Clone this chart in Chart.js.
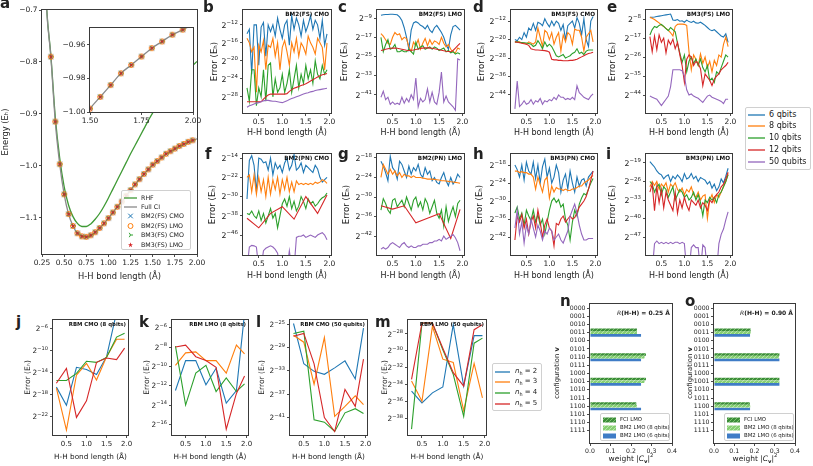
<!DOCTYPE html>
<html><head><meta charset="utf-8">
<script src="https://cdn.jsdelivr.net/npm/chart.js@4.4.1/dist/chart.umd.min.js"></script>
<style>
html,body{margin:0;padding:0;background:#fff;}
#fig{position:relative;width:813px;height:466px;overflow:hidden;font-family:"DejaVu Sans",sans-serif;color:#222;}
canvas{position:absolute;}
.lt{position:absolute;font-weight:bold;font-size:15px;line-height:15px;z-index:5;}
.leg{position:absolute;border:1px solid #d0d0d0;border-radius:2px;background:rgba(255,255,255,0.85);box-sizing:border-box;z-index:5;}
.tx{position:absolute;white-space:nowrap;line-height:1;z-index:5;}
</style></head><body><div id="fig"></div>
<script>
// ---------------- DATA ----------------
const bondX  = [0.25,0.30,0.35,0.40,0.45,0.50,0.55,0.60,0.65,0.70,0.75,0.80,0.85,0.90,0.95,1.00,1.05,1.10,1.15,1.20,1.25,1.30,1.35,1.40,1.45,1.50,1.55,1.60,1.65,1.70,1.75,1.80,1.85,1.90,1.95];
const coarseX = [0.25,0.50,0.75,1.00,1.25,1.50,1.75,1.95];
const curveX = [0.25,0.30,0.35,0.40,0.45,0.50,0.55,0.60,0.65,0.70,0.75,0.80,0.85,0.90,0.95,1.00,1.05,1.10,1.15,1.20,1.25,1.30,1.35,1.40,1.45,1.50,1.55,1.60,1.65,1.70,1.75,1.80,1.85,1.90,1.95,2.00];
const markerX = [0.35,0.40,0.45,0.50,0.55,0.60,0.65,0.70,0.75,0.80,0.85,0.90,0.95,1.00,1.05,1.10,1.15,1.20,1.25,1.30,1.35,1.40,1.45,1.50,1.55,1.60,1.65,1.70,1.75,1.80,1.85,1.90,1.95];

// panel a energies (Eh)
const rhfEnergy = [-0.45,-0.688,-0.787,-0.906,-0.985,-1.040,-1.076,-1.098,-1.111,-1.117,-1.117,-1.112,-1.103,-1.092,-1.078,-1.062,-1.045,-1.028,-1.011,-0.994,-0.977,-0.961,-0.945,-0.929,-0.913,-0.898,-0.886,-0.874,-0.863,-0.852,-0.842,-0.832,-0.823,-0.815,-0.807,-0.799];
const fciEnergy = [-0.45,-0.69,-0.790,-0.915,-0.997,-1.055,-1.093,-1.116,-1.130,-1.136,-1.137,-1.134,-1.128,-1.120,-1.111,-1.101,-1.090,-1.079,-1.069,-1.058,-1.047,-1.036,-1.026,-1.016,-1.007,-0.998,-0.991,-0.984,-0.977,-0.972,-0.967,-0.962,-0.958,-0.954,-0.951,-0.948];
const bmEnergy  = [-0.790,-0.915,-0.997,-1.055,-1.093,-1.116,-1.130,-1.136,-1.137,-1.134,-1.128,-1.120,-1.111,-1.101,-1.090,-1.079,-1.069,-1.058,-1.047,-1.036,-1.026,-1.016,-1.007,-0.998,-0.991,-0.984,-0.977,-0.972,-0.967,-0.962,-0.958,-0.954,-0.951];

// error panels: log2(error / Eh)
const b6  = [-14,-13,-23,-12,-12,-21,-12.5,-11.5,-19,-12,-13.5,-12,-14.5,-10.5,-13,-15,-12,-11,-16.5,-10,-13,-10.5,-12,-14.5,-11,-13.5,-12,-10,-13,-11,-12,-15,-11,-16.5,-14];
const b8  = [-15,-16,-18,-17,-27,-16.5,-18,-15.5,-22,-16.5,-17,-15,-19,-16,-22,-17,-15.5,-18,-21,-16,-18,-15,-19,-16,-17,-18.5,-14.5,-16,-17,-18.5,-15,-16,-17,-22,-16];
const b10 = [-26,-29,-22,-22,-30,-26,-28,-22,-29,-21,-20.5,-28,-24,-27,-26,-23,-27,-25,-22,-27,-24,-21,-26,-23,-25,-21,-24,-22,-25,-20,-23,-24,-21,-23,-22];
const b12 = [-29.1,-29.1,-29.1,-29.1,-29.1,-29.1,-29.1,-28.5,-28,-27.6,-27.4,-27.4,-27.4,-27.4,-27.4,-27.4,-27.4,-27.3,-26.8,-26.4,-26.1,-25.9,-25.7,-25.5,-25.3,-25.1,-24.8,-24.5,-24.2,-23.9,-23.6,-23.3,-23.1,-23,-22.8];
const b50 = [-30.3,-30,-29.8,-29.6,-29.4,-29.3,-29.1,-28.9,-28.8,-28.8,-28.9,-29,-29,-29.1,-29.2,-29.3,-29.1,-28.9,-28.6,-28.4,-28.2,-28,-27.8,-27.6,-27.4,-27.2,-27.1,-26.9,-26.8,-26.6,-26.5,-26.4,-26.3,-26.2,-26.1];

const c6  = [-7.8,-7.6,-7.5,-7.5,-7.4,-7.4,-7.5,-7.6,-8.5,-10,-13,-17,-22,-14,-11,-10.5,-11,-12,-12.5,-13.5,-12,-14,-15,-13,-12,-13.5,-15,-17,-20,-22,-16,-12.5,-12,-13,-14];
const c8  = [-15.5,-16.5,-18,-19.5,-20,-17,-15,-16,-15.5,-18,-17,-17.5,-21,-23,-19,-20.5,-18,-22,-19.5,-17.5,-20.5,-18,-20,-18.5,-19,-20,-17,-19.5,-21,-20,-22,-23,-23.5,-21.5,-22];
const c10 = [-17,-23,-20,-18,-22,-21.5,-20,-23,-23,-22.5,-23,-23,-22,-23,-24,-19,-22,-21,-20.5,-22,-21.5,-21,-22,-21,-21.5,-22.5,-22,-21.5,-23,-22.5,-23.5,-23,-24,-23.5,-24];
const c12 = [-22.5,-22.3,-22,-21.8,-21.6,-21.5,-21.5,-21.6,-21.8,-22,-22.2,-22.4,-22.5,-22.4,-22.3,-22.1,-21.9,-21.7,-21.5,-21.4,-21.4,-21.5,-21.6,-21.8,-22,-22.2,-22.4,-22.6,-22.8,-22.9,-23,-22.5,-21.5,-20.5,-19.5];
const c50 = [-42,-39.5,-43,-42,-45,-44,-45,-44.5,-45,-42,-44.5,-42.5,-44,-41,-43,-34,-46,-42.5,-44,-43,-38.5,-44,-40,-44,-45,-40,-31.5,-44,-41.5,-44,-45,-46,-47.5,-26,-26.5];

const d6  = [-20,-20.5,-19,-20,-17,-19,-15,-16,-13,-16,-12.5,-13,-14,-11,-13,-14.5,-12,-14,-12,-13,-16,-13.5,-20,-14,-13,-12,-15,-10.5,-13,-18,-11,-20,-23,-12,-10];
const d8  = [-21,-21,-21,-21.5,-21.5,-22,-21,-21.5,-22,-21,-15,-19,-23,-16,-17,-20,-17,-22,-19,-17,-25,-18,-21,-17,-18,-22,-15.5,-16,-16,-19,-25,-19,-17.5,-16,-21];
const d10 = [-21,-21,-21.2,-21.3,-21.4,-21.5,-21.7,-22,-23,-22.5,-20.5,-22,-24,-21,-23,-22,-23,-25,-27,-27.5,-27,-26.5,-28,-27.5,-27,-26,-25.5,-24,-26,-25.5,-26.5,-25,-24.5,-24.5,-24.5];
const d12 = [-21,-21.2,-21.4,-21.6,-21.8,-22,-22.5,-24,-24.3,-24.5,-24.5,-24.6,-24.7,-24.8,-25,-25.5,-28.5,-28.8,-28.8,-29,-29,-29.2,-29.2,-29.2,-29,-29,-28.8,-28.5,-28,-27.5,-27,-26.5,-26,-25.8,-25.5];
const d50 = [-50,-38,-49,-48,-46.5,-48,-47.5,-46,-48,-46.5,-47,-45.5,-48,-46.5,-47,-46,-46.5,-45,-46,-44,-45,-45,-46,-45.5,-46,-45,-46,-40,-43,-44,-45,-45.5,-46,-44.5,-43.5];

const e6  = [-7.2,-7.1,-7,-6.8,-6.6,-6.4,-6.2,-6,-5.8,-5.6,-8.4,-8.6,-8.2,-9,-8.8,-9.5,-8.5,-9.2,-9.6,-9,-9.8,-10,-9.5,-10.2,-11,-12,-13,-13.5,-13,-14,-15,-16,-16.5,-15,-19];
const e8  = [-7.2,-7.6,-8.2,-9,-9.8,-10.8,-11.5,-12.5,-13.2,-14.5,-16,-11.5,-10.5,-10.3,-10.4,-10.5,-11,-23.5,-32,-25,-27,-30,-24.5,-29,-26,-31,-28,-33,-27.5,-30,-25,-26,-20,-16.5,-21];
const e10 = [-15.5,-13,-11.5,-12,-11,-10.5,-11.5,-12.5,-13.5,-12,-13,-14,-19.5,-24,-28.5,-25,-33,-28,-26,-29,-27,-30,-27,-31,-33,-30,-37,-36,-38,-33,-34,-31,-28,-25,-26];
const e12 = [-16.3,-23.5,-16,-22.5,-15.5,-19,-17,-24,-18,-20,-17.5,-22,-19,-25,-30,-38,-27,-25,-26,-30,-28,-29,-31.5,-39.5,-34,-35.5,-37,-39.5,-36.5,-35,-34,-32,-31,-30,-28.5];
const e50 = [-44.5,-45,-45.5,-46,-47.5,-49,-47.5,-46,-44.5,-40,-32,-32,-32,-32,-32.5,-35,-41.5,-44,-43.5,-44.5,-45,-45.5,-46.5,-47.5,-46,-44.5,-44,-45,-45.5,-46,-46.5,-47,-48,-46,-46];

const f6  = [-31,-15,-13,-17,-28,-14,-14.5,-16,-15.5,-19,-14,-21,-16,-18.5,-17,-20,-16,-14,-19,-17,-12.5,-19,-18,-16,-20,-17,-18,-19,-20,-17,-18.5,-22,-24,-23,-22];
const f8  = [-22,-21,-28,-21,-29,-22,-28,-23,-30,-22,-29,-23,-27,-22,-29,-23,-27,-22,-28,-24,-28,-23.5,-25,-24.5,-25,-24.5,-25,-24.5,-25,-24,-24.5,-24,-23,-23.5,-24.5];
const f10 = [-37,-37.5,-36,-38,-39,-36,-40,-37,-41,-38,-35,-39,-37,-43,-38,-33,-31,-34,-30,-35,-32,-36,-34,-30,-32,-35,-31,-33,-32,-34,-33,-31.5,-30.5,-30,-28.5];
const f12 = [-39,-43,-37,-34.2,-39.4,-30,-37,-29.3];
const f50 = [-60,-51,-50.3,-50.5,-51,-60,-60,-52.5,-51.5,-51,-50.5,-51,-52,-53.5,-60,-60,-60,-60,-52.5,-60,-60,-47,-46.5,-46.5,-46,-47,-46.5,-46,-46.5,-47,-46,-45.5,-45,-46,-48];

const g6  = [-19,-20.5,-22.5,-25,-17.5,-21,-22,-24.5,-19,-20,-22,-24,-20.5,-23,-21,-22,-20,-23,-24,-21,-23,-22,-25,-24,-25.5,-26,-24,-22.5,-25,-26.5,-24,-26,-25,-23,-24];
const g8  = [-24,-20,-21.5,-23,-21.5,-23,-22,-23.5,-22.5,-24,-23,-23.5,-23.5,-24,-23.5,-24,-24,-24,-24.2,-24.3,-24.5,-24.5,-24.5,-24.6,-24.7,-24.8,-25,-25,-25.1,-25.2,-25.3,-25.4,-25.5,-25.6,-25.8];
const g10 = [-34,-30.5,-32,-34,-35,-31,-30.5,-33,-32,-31,-33,-30,-32,-34,-31,-30,-33,-31.5,-34,-30.5,-32,-35,-33,-31,-35,-36.5,-34,-39,-33,-37.5,-35,-33,-36,-32,-31];
const g12 = [-32.7,-33.7,-32.7,-37.9,-36.5,-35.1,-42.7,-33.8];
const g50 = [-46,-45.5,-46,-45.5,-44.5,-44,-44.5,-45,-45.5,-44.5,-44,-45,-45.5,-45,-45.5,-45.5,-45,-45,-44.5,-44.5,-44.5,-44,-44,-43.5,-43.5,-43,-43.5,-42,-43,-42.5,-42,-41.5,-42.5,-44,-46.5];

const h6  = [-18,-19.5,-22,-18,-23,-17,-20,-21,-17,-22.5,-18,-24,-18.5,-16,-22,-19,-24,-22,-18,-20.5,-27,-23,-21,-26,-20,-24,-27,-22,-25,-23,-22.5,-25,-22,-21,-20];
const h8  = [-20,-20,-20.5,-20.2,-20.5,-20.5,-21,-21,-22,-26,-22,-24.5,-27,-23,-22,-29,-25,-27,-25.5,-26,-26,-26.5,-26,-26.5,-26.5,-26,-26,-25.5,-25,-25,-24,-23.5,-23,-22,-21.5];
const h10 = [-34,-32,-36,-34,-38,-33,-35,-36.5,-33,-37,-34.5,-38,-36,-41,-37,-33,-30,-29,-30.5,-29.5,-32,-31,-36,-38,-43,-37,-33,-35,-31,-29,-27.5,-28,-26,-24,-22.5];
const h12 = [-43,-35,-37,-34.5,-39,-36,-41,-37,-35,-39,-33,-37,-42,-38,-36,-39,-40,-45,-37.5,-38,-36,-35,-37,-36,-35,-36,-35.5,-34,-32,-31,-30,-28.5,-26,-23,-20];
const h50 = [-39,-33,-41,-37,-44,-38,-41,-36,-39,-42,-38,-40,-43,-40,-41,-39,-40,-43,-42,-41,-43,-44,-42,-40,-35,-33,-31,-34,-38,-41,-43,-43,-42.5,-42.5,-42.5];

const i6  = [-18.5,-19.5,-20.5,-22,-23,-23.5,-25,-24,-23.5,-26,-24,-25,-23.5,-24.5,-26,-23,-25,-24.5,-23,-25,-24,-26,-24.5,-25,-25.5,-27,-26,-28.5,-27,-29.5,-28,-25,-26.5,-24,-21];
const i8  = [-28,-26,-27.5,-26,-29,-27,-28,-26.5,-30,-27,-28,-26.5,-29,-30,-28.5,-31,-29,-30,-28,-31,-32,-30,-33,-31.5,-31,-40,-33,-31,-34,-31,-32,-30,-28,-26,-23];
const i10 = [-26,-27,-30,-28,-27,-31,-28,-29,-32,-30,-28,-33,-31,-29,-30,-32,-31,-33,-32,-30,-33,-31,-34,-39,-33,-34,-32,-33,-32,-34,-31,-30,-28,-26,-23.5];
const i12 = [-30,-27,-37,-28,-34,-29,-36,-30,-33,-35,-37,-30,-38,-33,-36,-32,-35,-37,-33,-34,-35,-33,-36,-34,-35,-37,-33,-34,-32,-31,-30,-28,-27,-25,-22.5];
const i50 = [-60,-60,-49.5,-48.5,-49.5,-49,-49.5,-49,-49.5,-49,-49.5,-49,-49,-49.5,-49,-49.5,-60,-60,-51,-50,-51,-51,-60,-50,-51,-60,-60,-60,-60,-60,-49.5,-46,-44,-40.5,-37.5];

// RBM panels (log2 error), hidden units n_h = 2..5
const j2 = [-16.6,-19.9,-13.0,-13.4,-14.3,-11.1,-3.0,-3.5];
const j3 = [-16.8,-24.4,-14.4,-12.3,-15.3,-11.1,-7.9,-7.9];
const j4 = [-15.4,-15.4,-14.1,-11.9,-12.1,-11.2,-7.5,-6.8];
const j5 = [-15.9,-13.2,-22.1,-19.1,-12.1,-11.3,-11.6,-9.5];
const k2 = [-12.5,-9.4,-9.4,-11.9,-10.2,-13.8,-12.5,-4.5];
const k3 = [-9.9,-8.6,-8.5,-9.4,-9.4,-10.7,-7.8,-8.7];
const k4 = [-7.9,-14.0,-10.7,-9.9,-12.6,-11.2,-12.6,-11.8];
const k5 = [-8.0,-7.8,-9.0,-9.4,-10.1,-16.5,-12.8,-11.0];
const l2 = [-24.9,-31.8,-33.1,-33.6,-32.5,-31.3,-34.4,-25.7];
const l3 = [-26.9,-28.1,-35.3,-27.3,-40.8,-39.1,-37.3,-38.8];
const l4 = [-26.6,-26.2,-41.4,-41.8,-43.4,-40.2,-39.5,-40.3];
const l5 = [-27.1,-26.6,-31.8,-41.0,-43.4,-36.2,-39.1,-31.0];
const m2 = [-34.8,-36.2,-35.0,-34.3,-26.9,-34.2,-28.2,-28.2];
const m3 = [-33.6,-36.0,-27.1,-31.0,-31.4,-37.1,-31.5,-35.6];
const m4 = [-39.3,-26.7,-26.7,-29.9,-32.8,-37.8,-29.1,-28.5];
const m5 = [-33.4,-26.7,-26.7,-29.7,-32.6,-34.2,-27.5,-26.9];

// configuration weights |C_v|^2
const configs = ['0000','0001','0010','0011','0100','0101','0110','0111','1000','1001','1010','1011','1100','1101','1110','1111'];
const nFCI = [0,0,0,0.229,0,0,0.273,0,0,0.273,0,0,0.226,0,0,0];
const nBM8 = [0,0,0,0.229,0,0,0.266,0,0,0.266,0,0,0.229,0,0,0];
const nBM6 = [0,0,0,0.249,0,0,0.249,0,0,0.249,0,0,0.249,0,0,0];
const oFCI = [0,0,0,0.181,0,0,0.323,0,0,0.323,0,0,0.177,0,0,0];
const oBM8 = [0,0,0,0.181,0,0,0.321,0,0,0.323,0,0,0.179,0,0,0];
const oBM6 = [0,0,0,0.178,0,0,0.323,0,0,0.323,0,0,0.178,0,0,0];

// tick values
const aXTicks = [0.25,0.5,0.75,1.0,1.25,1.5,1.75,2.0];
const aYTicks = [-1.1,-1.0,-0.9,-0.8,-0.7];
const insetXTicks = [1.5,1.75,2.0];
const insetYTicks = [-1.0,-0.98,-0.96];
const bondTicks = [0.5,1.0,1.5,2.0];
const weightTicks = [0,0.1,0.2,0.3,0.4];

// ---------------- RENDERING ----------------
Chart.defaults.font.family = "'DejaVu Sans', sans-serif";
Chart.defaults.color = '#222';
const fig = document.getElementById('fig');
const SP = '#3a3a3a';
const COL = ['#1f77b4','#ff7f0e','#2ca02c','#d62728','#9467bd'];
const dec = d => v => (v < 0 ? '−' : '') + Math.abs(v).toFixed(d);

const deco = {
  id: 'deco',
  beforeDatasetsDraw(chart, args, o) {
    if (!o.bg) return;
    const a = chart.chartArea, c = chart.ctx;
    c.save(); c.fillStyle = o.bg; c.fillRect(a.left, a.top, a.right - a.left, a.bottom - a.top); c.restore();
  },
  afterDatasetsDraw(chart, args, o) {
    const a = chart.chartArea, c = chart.ctx;
    c.save();
    c.strokeStyle = SP; c.lineWidth = 1;
    c.strokeRect(Math.round(a.left) - 0.5, Math.round(a.top) - 0.5, Math.round(a.right - a.left) + 1, Math.round(a.bottom - a.top) + 1);
    if (o.title) {
      c.fillStyle = '#111'; c.font = 'bold ' + (o.tsize || 5.7) + 'px "DejaVu Sans"';
      c.textAlign = 'right'; c.textBaseline = 'middle';
      c.fillText(o.title, a.right - 2, a.top + 5);
    }
    // power-of-two tick labels with a real superscript exponent
    if (o.pow) {
      const s = chart.scales.y, fs = o.pow;
      c.fillStyle = '#222'; c.textAlign = 'left'; c.textBaseline = 'alphabetic';
      s.ticks.forEach(t => {
        const y = s.getPixelForValue(t.value);
        const exp = (t.value < 0 ? '−' : '') + Math.abs(t.value);
        c.font = (fs * 0.7) + 'px "DejaVu Sans"'; const ew = c.measureText(exp).width;
        c.font = fs + 'px "DejaVu Sans"'; const bw = c.measureText('2').width;
        const xr = s.right - 5;
        c.fillText('2', xr - ew - bw, y + fs * 0.36);
        c.font = (fs * 0.7) + 'px "DejaVu Sans"';
        c.fillText(exp, xr - ew, y - fs * 0.08);
      });
    }
    c.restore();
  }
};

function axis(a, isX, size, title, fs, tfs) {
  return {
    type: 'linear', min: a.min, max: a.max, reverse: !!a.reverse, position: isX ? 'bottom' : 'left',
    offset: false, bounds: 'data',
    afterBuildTicks: s => { s.ticks = a.ticks.map(v => ({value: v})); },
    afterFit: s => {
      if (isX) { s.height = size; s.paddingLeft = 0; s.paddingRight = 0; }
      else { s.width = size; s.paddingTop = 0; s.paddingBottom = 0; }
    },
    ticks: {display: !a.pow, callback: v => (a.fmt ? a.fmt(v) : ''), font: {size: fs}, color: '#222', padding: 1.5, autoSkip: false, maxRotation: 0, minRotation: 0},
    grid: {display: true, drawOnChartArea: false, drawTicks: true, tickLength: 3, color: SP, lineWidth: 0.9, offset: false},
    border: {display: false},
    title: {display: !!title, text: title || '', font: {size: tfs}, color: '#222', padding: {top: 0, bottom: 0}}
  };
}

function panel(cfg) {
  const [L, T, R, B] = cfg.rect;
  const padT = cfg.padT ?? 5, padR = cfg.padR ?? 7;
  const left = L - cfg.yw, top = T - padT;
  const w = R + padR - left, h = B + cfg.xh - top;
  const cv = document.createElement('canvas');
  cv.width = w; cv.height = h;
  Object.assign(cv.style, {left: left + 'px', top: top + 'px', width: w + 'px', height: h + 'px', zIndex: cfg.z || 1});
  fig.appendChild(cv);
  const fs = cfg.fs || 7.5, tfs = cfg.tfs || 8;
  return new Chart(cv, {
    type: cfg.type || 'line',
    data: {datasets: cfg.datasets},
    options: {
      responsive: false, animation: false, devicePixelRatio: 1,
      indexAxis: cfg.indexAxis || 'x',
      layout: {padding: {left: 0, top: padT, right: padR, bottom: 0}},
      plugins: {legend: {display: false}, tooltip: {enabled: false},
        deco: {title: cfg.title, bg: cfg.bg, tsize: cfg.tsize, pow: cfg.y.pow ? (cfg.pfs || fs + 0.3) : 0}},
      scales: {x: axis(cfg.x, true, cfg.xh, cfg.xTitle, fs, tfs), y: axis(cfg.y, false, cfg.yw, cfg.yTitle, cfg.yfs || fs, cfg.ytfs || tfs)},
      datasets: {bar: {categoryPercentage: 1.0, barPercentage: 0.95}}
    },
    plugins: [deco]
  });
}

function pts(xs, ys) { return xs.map((x, i) => ({x, y: ys[i]})); }
function lineDs(xs, ys, color, order, extra) {
  return Object.assign({data: pts(xs, ys), borderColor: color, backgroundColor: color, borderWidth: 1.1,
    pointRadius: 0, tension: 0, fill: false, spanGaps: true, order}, extra || {});
}

// marker glyphs
function drawMarker(x, type, color, cx, cy, r) {
  x.save(); x.strokeStyle = color; x.fillStyle = color; x.lineWidth = 1; x.beginPath();
  if (type === 'x') { x.moveTo(cx - r, cy - r); x.lineTo(cx + r, cy + r); x.moveTo(cx - r, cy + r); x.lineTo(cx + r, cy - r); x.stroke(); }
  else if (type === 'o') { x.arc(cx, cy, r, 0, 2 * Math.PI); x.stroke(); }
  else if (type === 'tri') { x.moveTo(cx, cy); x.lineTo(cx + r * 1.1, cy); x.moveTo(cx, cy); x.lineTo(cx - r * 0.55, cy - r * 0.95); x.moveTo(cx, cy); x.lineTo(cx - r * 0.55, cy + r * 0.95); x.stroke(); }
  else if (type === 'star') {
    for (let k = 0; k < 10; k++) { const an = -Math.PI / 2 + k * Math.PI / 5, rr = k % 2 ? r * 0.45 : r * 1.15;
      const px = cx + rr * Math.cos(an), py = cy + rr * Math.sin(an); if (k) x.lineTo(px, py); else x.moveTo(px, py); }
    x.closePath(); x.fill();
  }
  x.restore();
}
function markerCanvas(type, color) {
  const c = document.createElement('canvas'); c.width = c.height = 8;
  drawMarker(c.getContext('2d'), type, color, 4, 4, type === 'o' ? 2.5 : 2.3); return c;
}
const MK = {x: markerCanvas('x', COL[0]), o: markerCanvas('o', COL[1]), tri: markerCanvas('tri', COL[2]), star: markerCanvas('star', COL[3])};
const RHF_COL = '#3f9a35', FCI_COL = '#8a8a8a';

function energySets(filterMin) {
  const mx = markerX.filter(x => x >= filterMin), my = bmEnergy.filter((v, i) => markerX[i] >= filterMin);
  const mk = (img, ord) => ({data: pts(mx, my), showLine: false, pointStyle: img, pointRadius: 3, borderColor: 'transparent', backgroundColor: 'transparent', order: ord});
  return [
    lineDs(curveX, rhfEnergy, RHF_COL, 10, {borderWidth: 1.3, cubicInterpolationMode: 'monotone'}),
    lineDs(curveX, fciEnergy, FCI_COL, 9, {borderWidth: 1.3, cubicInterpolationMode: 'monotone'}),
    mk(MK.x, 8), mk(MK.o, 7), mk(MK.tri, 6), mk(MK.star, 5)
  ];
}

// panel a
panel({rect: [42, 10, 197, 254], yw: 41, xh: 28, padR: 9, tfs: 8.3,
  x: {min: 0.25, max: 2.0, ticks: aXTicks, fmt: v => v.toFixed(2)},
  y: {min: -1.17, max: -0.7, ticks: aYTicks, fmt: dec(1)},
  xTitle: 'H-H bond length (Å)', yTitle: 'Energy (Eₕ)', datasets: energySets(0)});
// inset
panel({rect: [90, 26, 193, 112], yw: 33, xh: 14, padT: 3, padR: 10, z: 2, bg: '#fff',
  x: {min: 1.5, max: 2.0, ticks: insetXTicks, fmt: v => v.toFixed(2)},
  y: {min: -1.0, max: -0.95, ticks: insetYTicks, fmt: dec(2)},
  datasets: energySets(1.5)});

function errPanel(rect, yw, xh, yr, yt, title, ser) {
  const ds = ser.map((s, k) => lineDs(s[1], s[0], COL[k], 10 - k));
  panel({rect, yw, xh, ytfs: 8.6, x: {min: 0.165, max: 2.035, ticks: bondTicks, fmt: v => v.toFixed(1)},
    y: {min: yr[0], max: yr[1], ticks: yt, pow: true},
    xTitle: 'H-H bond length (Å)', yTitle: 'Error (Eₕ)', title, datasets: ds});
}
const B5 = (a, b, c, d, e, rx) => [[a, bondX], [b, bondX], [c, bondX], [d, rx || bondX], [e, bondX]];
errPanel([243, 10, 331, 113], 33, 25, [-31.6, -8.7], [-28, -24, -20, -16, -12], 'BM2(FS) CMO', B5(b6, b8, b10, b12, b50));
errPanel([377, 10, 464, 113], 37, 25, [-48.6, -5.6], [-41, -33, -25, -17, -9], 'BM2(FS) LMO', B5(c6, c8, c10, c12, c50));
errPanel([511, 10, 597, 113], 34, 25, [-51.8, -7.2], [-44, -36, -28, -20, -12], 'BM3(FS) CMO', B5(d6, d8, d10, d12, d50));
errPanel([646, 10, 732, 113], 38, 25, [-52.5, -3.7], [-44, -35, -26, -17, -8], 'BM3(FS) LMO', B5(e6, e8, e10, e12, e50));
errPanel([243, 154, 331, 255], 35, 26, [-54.3, -12.3], [-46, -38, -30, -22, -14], 'BM2(PN) CMO', B5(f6, f8, f10, f12, f50, coarseX));
errPanel([377, 154, 464, 255], 35, 26, [-47.8, -16.8], [-42, -36, -30, -24, -18], 'BM2(PN) LMO', B5(g6, g8, g10, g12, g50, coarseX));
errPanel([511, 154, 597, 255], 36, 26, [-48, -14.3], [-42, -36, -30, -24, -18], 'BM3(PN) CMO', B5(h6, h8, h10, h12, h50));
errPanel([646, 154, 732, 255], 38, 26, [-53.8, -15.6], [-47, -40, -33, -26, -19], 'BM3(PN) LMO', B5(i6, i8, i10, i12, i50));

function rbmPanel(rect, yw, yr, yt, title, ser) {
  const ds = ser.map((s, k) => lineDs(coarseX, s, COL[k], 10 - k));
  panel({rect, yw, xh: 26, fs: 7, tfs: 7.3, ytfs: 7.6, tsize: 5.4, x: {min: 0.165, max: 2.035, ticks: bondTicks, fmt: v => v.toFixed(1)},
    y: {min: yr[0], max: yr[1], ticks: yt, pow: true},
    xTitle: 'H-H bond length (Å)', yTitle: 'Error (Eₕ)', title, datasets: ds});
}
rbmPanel([53, 320, 128, 435], 30, [-25.3, -4.4], [-22, -18, -14, -10, -6], 'RBM CMO (8 qbits)', [j2, j3, j4, j5]);
rbmPanel([172, 320, 248, 435], 30, [-17.1, -5.2], [-16, -14, -12, -10, -8, -6], 'RBM LMO (8 qbits)', [k2, k3, k4, k5]);
rbmPanel([290, 320, 367, 435], 33, [-44, -24.3], [-41, -37, -33, -29, -25], 'RBM CMO (50 qubits)', [l2, l3, l4, l5]);
rbmPanel([408, 320, 486, 435], 28, [-40, -26.35], [-38, -36, -34, -32, -30, -28], 'RBM LMO (50 qubits)', [m2, m3, m4, m5]);

// hatch patterns for bars
function hatch(bg, line) {
  const c = document.createElement('canvas'); c.width = c.height = 4;
  const x = c.getContext('2d'); x.fillStyle = bg; x.fillRect(0, 0, 4, 4);
  x.fillStyle = line; x.fillRect(0, 3, 1, 1); x.fillRect(1, 2, 1, 1); x.fillRect(2, 1, 1, 1); x.fillRect(3, 0, 1, 1);
  return x.createPattern(c, 'repeat');
}
const FCI_FILL = hatch('#3c8c3a', '#79c46a'), BM8_FILL = hatch('#86cf72', '#b8e6aa'), BM6_COL = '#3f7cc6';
const cfgIdx = configs.map((s, i) => i);
function barPanel(rect, yw, fci, bm8, bm6) {
  const ds = [[fci, FCI_FILL], [bm8, BM8_FILL], [bm6, BM6_COL]].map(([v, f]) => ({data: v.map((w, i) => ({x: w, y: cfgIdx[i]})), backgroundColor: f, borderWidth: 0}));
  panel({rect, yw, xh: 21, fs: 6.2, type: 'bar', indexAxis: 'y',
    x: {min: 0, max: 0.4, ticks: weightTicks, fmt: v => v.toFixed(1)},
    y: {min: -0.5, max: 16.5, reverse: true, ticks: cfgIdx, fmt: v => configs[v]},
    datasets: ds});
}
barPanel([590, 304, 672, 443], 38, nFCI, nBM8, nBM6);
barPanel([714, 304, 795, 443], 29, oFCI, oBM8, oBM6);

// ---------------- HTML text: letters, legends, titles ----------------
function letter(ch, x, baseline) {
  const d = document.createElement('div'); d.className = 'lt'; d.textContent = ch;
  d.style.left = x + 'px'; d.style.top = (baseline - 12.7) + 'px'; fig.appendChild(d);
}
[['a', 0, 8.5], ['b', 203, 13], ['c', 338, 13], ['d', 473, 13], ['e', 607, 13],
 ['f', 205, 160], ['g', 338, 160], ['h', 473, 160], ['i', 606, 160],
 ['j', 16, 328], ['k', 139, 328], ['l', 256, 328], ['m', 375, 328], ['n', 560, 307], ['o', 685, 307]]
 .forEach(a => letter(...a));

function text(html, x, y, size, tf, extra) {
  const d = document.createElement('div'); d.className = 'tx'; d.innerHTML = html;
  d.style.left = x + 'px'; d.style.top = y + 'px'; d.style.fontSize = size + 'px';
  d.style.transform = tf; if (extra) Object.assign(d.style, extra); fig.appendChild(d);
}
// bar panel axis titles and annotations
text('configuration <b>v</b>', 557, 373, 6.8, 'translate(-50%,-50%) rotate(-90deg)');
text('configuration <b>v</b>', 690, 373, 6.8, 'translate(-50%,-50%) rotate(-90deg)');
text('weight |<i>C</i><sub style="font-size:70%"><b>v</b></sub>|<sup style="font-size:70%">2</sup>', 631, 459, 7.5, 'translate(-50%,-50%)');
text('weight |<i>C</i><sub style="font-size:70%"><b>v</b></sub>|<sup style="font-size:70%">2</sup>', 755, 459, 7.5, 'translate(-50%,-50%)');
text('<i>R</i><b>(H-H) = 0.25 Å</b>', 670, 313, 6, 'translate(-100%,-50%)');
text('<i>R</i><b>(H-H) = 0.90 Å</b>', 793, 313, 6, 'translate(-100%,-50%)');

function legend(x, y, w, h, rows, o) {
  const box = document.createElement('div'); box.className = 'leg';
  Object.assign(box.style, {left: x + 'px', top: y + 'px', width: w + 'px', height: h + 'px'});
  rows.forEach((r, i) => {
    const cy = o.first + i * o.step;
    const sw = document.createElement('canvas'); sw.width = o.sw; sw.height = 8;
    sw.style.left = o.sx + 'px'; sw.style.top = (cy - 4) + 'px';
    r.draw(sw.getContext('2d'), o.sw, 8); box.appendChild(sw);
    const t = document.createElement('div'); t.className = 'tx'; t.innerHTML = r.label;
    Object.assign(t.style, {left: o.tx + 'px', top: cy + 'px', fontSize: o.fs + 'px', transform: 'translateY(-50%)'});
    box.appendChild(t);
  });
  fig.appendChild(box);
}
const lineSw = (col, lw) => (c, w, h) => { c.strokeStyle = col; c.lineWidth = lw || 1.3; c.beginPath(); c.moveTo(0, 4); c.lineTo(w, 4); c.stroke(); };
const mkSw = (type, col) => (c, w, h) => drawMarker(c, type, col, w / 2, 4, type === 'o' ? 2.5 : 2.3);
const patchSw = fill => (c, w, h) => { c.fillStyle = fill; c.fillRect(0, 1.5, w, 5); };

legend(121, 190, 70, 60, [
  {label: 'RHF', draw: lineSw(RHF_COL)}, {label: 'Full CI', draw: lineSw(FCI_COL)},
  {label: 'BM2(FS) CMO', draw: mkSw('x', COL[0])}, {label: 'BM2(FS) LMO', draw: mkSw('o', COL[1])},
  {label: 'BM3(FS) CMO', draw: mkSw('tri', COL[2])}, {label: 'BM3(FS) LMO', draw: mkSw('star', COL[3])}
], {first: 6.5, step: 9.4, sx: 2, sw: 13, tx: 19, fs: 6.3});

legend(745, 107, 66, 63, [
  {label: '6 qbits', draw: lineSw(COL[0])}, {label: '8 qbits', draw: lineSw(COL[1])},
  {label: '10 qbits', draw: lineSw(COL[2])}, {label: '12 qbits', draw: lineSw(COL[3])},
  {label: '50 qubits', draw: lineSw(COL[4])}
], {first: 6.5, step: 11.9, sx: 2, sw: 17, tx: 23, fs: 8});

legend(492, 363, 50, 48, [2, 3, 4, 5].map((n, k) => ({label: '<i>n</i><sub style="font-size:70%">h</sub> = ' + n, draw: lineSw(COL[k])})),
  {first: 7.5, step: 10.7, sx: 2, sw: 15, tx: 22, fs: 7});

const barLeg = [
  {label: 'FCI LMO', draw: patchSw(FCI_FILL)}, {label: 'BM2 LMO (8 qbits)', draw: patchSw(BM8_FILL)},
  {label: 'BM2 LMO (6 qbits)', draw: patchSw(BM6_COL)}];
legend(600, 413, 70, 28, barLeg, {first: 5.5, step: 8.2, sx: 2, sw: 13, tx: 19, fs: 5.4});
legend(724, 413, 70, 28, barLeg, {first: 5.5, step: 8.2, sx: 2, sw: 13, tx: 19, fs: 5.4});
</script></body></html>
